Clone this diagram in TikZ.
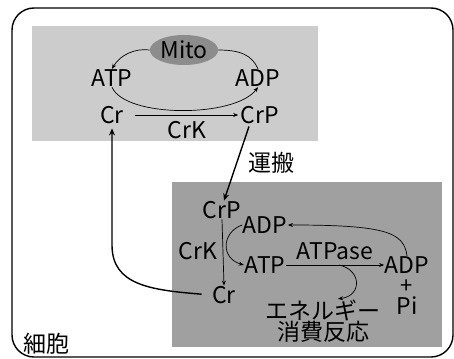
\documentclass[tikz,border=0pt]{standalone}
\usepackage{fontspec}
\setmainfont{Noto Sans CJK JP}
\usetikzlibrary{arrows.meta,shapes.geometric}
\begin{document}
\begin{tikzpicture}[x=1pt,y=-1pt,
  lbl/.style={inner sep=0.5pt,font=\fontsize{23}{24}\selectfont},
  tarr/.style={line width=0.7pt,-{Stealth[length=5pt,width=4pt]}},
  karr/.style={line width=1.4pt,-{Stealth[length=7pt,width=6pt]}}]
\useasboundingbox (0,0) rectangle (454,358);
\draw[line width=1.4pt,rounded corners=22pt] (12,8) rectangle (453,357);
\fill[fill={rgb,255:red,204;green,204;blue,204}] (32,26) rectangle (318,141);
\fill[fill={rgb,255:red,160;green,160;blue,160}] (172,182) rectangle (442,347);
\node[ellipse,fill={rgb,255:red,140;green,140;blue,140},minimum width=65pt,minimum height=30pt,inner sep=0pt,lbl] (mito) at (184,50) {Mito};
\node[lbl] (atp1) at (112,78) {ATP};
\node[lbl] (adp1) at (258,78) {ADP};
\node[lbl] (cr1) at (112,115) {Cr};
\node[lbl] (crp1) at (260,115) {CrP};
\node[lbl] (crk1) at (187,130) {CrK};
\node[lbl] (unpan) at (271,163) {運搬};
\node[lbl] (crp2) at (222,210) {CrP};
\node[lbl] (adp2) at (265,225) {ADP};
\node[lbl] (crk2) at (198,251) {CrK};
\node[lbl] (atp2) at (265,265) {ATP};
\node[lbl] (atpase) at (335,251) {ATPase};
\node[lbl] (adp3) at (407,265) {ADP};
\node[inner sep=0pt,font=\fontsize{22}{22}\selectfont,text height=12pt,text depth=0pt] (plus) at (407,287) {+};
\node[lbl] (pi) at (407,306) {Pi};
\node[lbl] (cr2) at (224,295) {Cr};
\node[lbl] (ene) at (323,310) {エネルギー};
\node[lbl] (shohi) at (323,332) {消費反応};
\node[lbl] (saibo) at (46,344) {細胞};
\coordinate (br) at (339,265);
% top cycle
\draw[tarr] (mito.west) .. controls (135,48) and (120,55) .. (atp1.north);
\draw[line width=0.7pt] (mito.east) .. controls (240,50) and (252,55) .. (adp1.north);
\draw[tarr] (atp1.south) .. controls (125,118) and (235,118) .. (adp1.south);
\draw[tarr,shorten <=10pt,shorten >=2pt] (cr1.east) -- (crp1.west);
% transport
\draw[karr] ([xshift=-11pt,yshift=-2pt]crp1.south) -- ([xshift=2pt]crp2.north);
\draw[karr,shorten <=10pt] (cr2.west) .. controls (150,290) and (112,285) .. (112,245) -- ([yshift=-4pt]cr1.south);
% lower
\draw[tarr] (crp2.south) -- (cr2.north);
\draw[tarr] (adp2.west) .. controls (222,232) and (220,258) .. (atp2.west);
\draw[tarr] (atp2.east) -- (adp3.west);
\draw[tarr] (br) .. controls (362,270) and (362,296) .. ([xshift=15pt]ene.north);
\draw[tarr] (adp3.north) .. controls (404,232) and (385,225) .. (adp2.east);
\end{tikzpicture}
\end{document}
